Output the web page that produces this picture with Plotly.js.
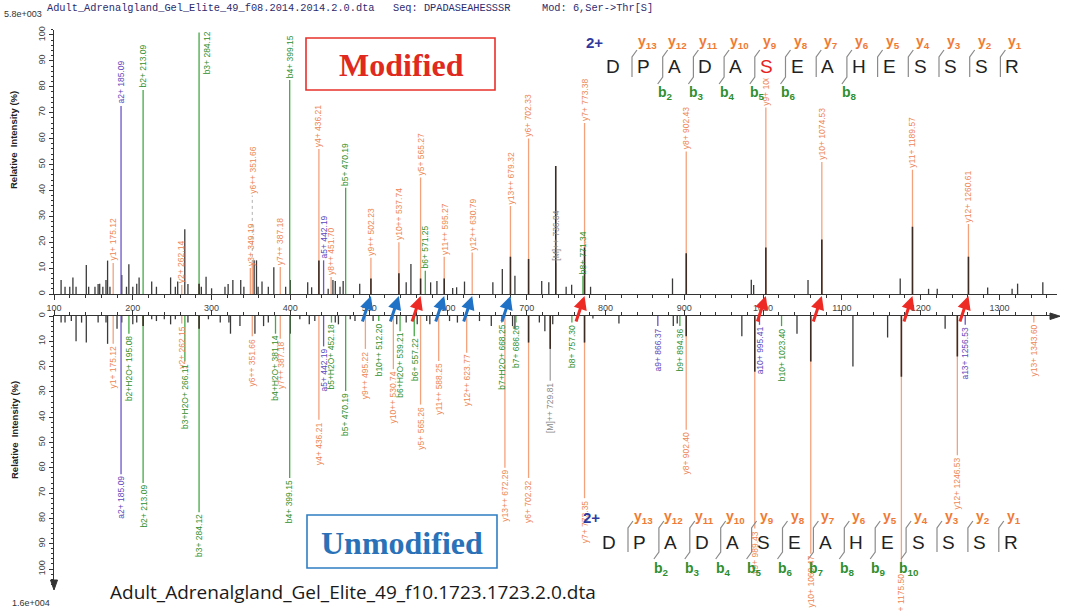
<!DOCTYPE html>
<html>
<head>
<meta charset="utf-8">
<script src="https://cdn.plot.ly/plotly-3.0.1.min.js"></script>
<style>
  html, body { margin: 0; padding: 0; background: #ffffff; }
  #chart { width: 1065px; height: 611px; }
</style>
</head>
<body>
<div id="chart"></div>
<script>
// ---------- Upper panel: modified peptide (Ser->Thr at position 6) ----------
// unassigned peaks (m/z, relative intensity %)
const topPeakMz = [109,114,120,124,128,141,144,152,156,158,162,166,168,171,186,192,195,200,205,208,224,230,248,254,257,266,270,287,293,300,317,321,327,337,341,354,357,359,364,372,379,394,400,422,427,448,454,457,463,467,488,547,553,578,586,606,611,621,657,669,685,719,728,750,757,781,885,985,988,1057,1174,1210,1221,1285,1316,1323,1355];
const topPeakInt = [5.4,2.8,2.8,6.4,2.8,11.2,2.8,2.8,3.9,4,2.8,5.4,12.9,2.8,7.3,2.8,11.5,2.8,4,6.4,4.8,2.8,6.4,2.8,4.8,25,3.9,2.8,6.7,2.2,2.8,3.9,5.4,5.4,2.8,13,13,2.8,4.8,2.8,10.3,2.8,5.4,4.5,2.6,2,5.4,5,2.8,5,4,4.5,11.6,4.5,5,2.3,2.6,4.8,4.5,9.7,7,5,4.5,2.8,3.6,2.8,6,5.5,3.5,5.4,6,2,2,2.5,2,4,4.5];
// assigned fragment ions
const topIonMz = [175.12,185.09,213.09,262.14,284.12,349.19,351.66,387.18,399.15,436.21,442.19,451.70,470.19,502.23,537.74,565.27,571.25,595.27,630.79,679.32,702.33,736.84,771.34,773.38,902.43,1003.47,1074.53,1189.57,1260.61];
const topIonName = ['y1+','a2+','b2+','y2+','b3+','y3+','y6++','y7++','b4+','y4+','a5+','y8++','b5+','y9++','y10++','y5+','b6+','y11++','y12++','y13++','y6+','[M]++','b8+','y7+','y8+','y9+','y10+','y11+','y12+'];
const topIonHeight = [12,72.6,78.8,3.5,101,10,12,10.4,82.6,56,13,6.6,41,14,20,45,9,14.4,16,34,60,12,7,66,55,72,51,48,27];
const topIonLabelAt = [null,null,null,null,null,null,38,null,null,null,null,null,null,null,null,null,null,null,null,null,null,null,null,null,null,null,null,null,null];
const topIonPeak = [0,0,0,0,4,0,0,0,0,12.9,0,0,0,6,8,6,0,6,0,14.4,13.5,49.4,0,18,15.7,18,21,26,14.4];

// ---------- Lower panel: unmodified peptide ----------
const botPeakMz = [109,114,122,128,135,141,156,166,168,180,186,200,205,224,230,240,248,254,270,296,311,322,324,336,355,366,372,400,412,424,431,457,461,476,482,505,535,547,561,573,577,602,612,640,655,682,685,716,723,733,784,817,886,891,973,1043,1114,1158,1231];
const botPeakInt = [2.6,2.6,2,10,2.6,10.5,2.6,2.6,11,5,2.6,3.3,2.6,1.3,2,1.3,3.3,1.3,2.6,1.3,2.6,2.6,7,4,7,4,2.6,7,1.3,3.3,2,2.6,3.3,1.3,2,2,3.3,2.6,3.3,2,3.3,2,2.6,2,4,4,5,2.6,6,3.3,1,3,4,3,8,7,20,8.5,5];
const botIonMz = [175.12,185.09,195.08,213.09,262.15,266.11,284.12,351.66,381.14,387.18,399.15,436.21,442.19,452.18,470.19,495.22,512.20,530.74,539.21,557.22,565.26,588.25,623.77,668.25,672.29,686.26,702.32,729.81,757.30,773.35,866.37,894.36,902.40,989.43,995.41,1023.40,1060.47,1175.50,1246.53,1256.53,1343.60];
const botIonName = ['y1+','a2+','b2+H2O+','b2+','y2+','b3+H2O+','b3+','y6++','b4+H2O+','y7++','b4+','y4+','a5+','b5+H2O+','b5+','y9++','b10++','y10++','b6+H2O+','b6+','y5+','y11++','y12++','b7+H2O+','y13++','b7+','y6+','[M]++','b8+','y7+','a9+','b9+','y8+','y9+','a10+','b10+','y10+','y11+','y12+','a13+','y13+'];
const botIonHeight = [11,62.5,7,66,3,18,77.6,8,7,9,64,41,12,2.6,29.6,13,2,21,6,8,35,17.8,14.5,2.6,60,2.6,64,25.6,2.6,72,4,4,45,84,3.5,4,94,101,55,3.5,2.6];
const botIonPeak = [0,0,0,4,0,0,5,0,0,0,0,0,0,0,0,0,0,0,0,0,0,0,0,0,0,0,10.5,13,0,10.5,0,0,8,22,0,0,18,24,16,0,0];

// diagnostic ions marked on the m/z axis
const blueArrowMz = [502.23, 537.74, 595.27, 630.79, 679.32];
const redArrowMz = [565.27, 773.38, 1003.47, 1074.53, 1189.57, 1260.61];

// peptide sequence and fragment ladders
const seqLetters = ['D','P','A','D','A','S','E','A','H','E','S','S','S','R'];
const yIonNums = [13,12,11,10,9,8,7,6,5,4,3,2,1];
const topBIons = [2,3,4,5,6,8];
const botBIons = [2,3,4,5,6,7,8,9,10];
const modSite = 6;

// ---------- geometry helpers ----------
const W = 1065, H = 611, ML = 54, MR = 8;
const px = p => (p - ML) / (W - ML - MR);
const py = p => 1 - p / H;

const FONT = 'Liberation Sans, Arial, sans-serif';
const ionStyle = {
  y: { line: '#F4A27C', text: '#EE8655' },
  b: { line: '#45A845', text: '#2F8F2F' },
  a: { line: '#6B55C8', text: '#5E48BC' },
  M: { line: '#A3A3A3', text: '#8A8A8A' }
};
const ionType = n => (n[0] === 'y' || n[0] === 'b' || n[0] === 'a') ? n[0] : 'M';

const traces = [];
const annotations = [];
const shapes = [];

// free text placed in page pixels
function note(xp, yp, text, font, opts) {
  annotations.push(Object.assign({
    xref: 'paper', yref: 'paper', x: px(xp), y: py(yp), text: text, showarrow: false,
    xanchor: 'center', yanchor: 'middle', font: font
  }, opts || {}));
}

function segs(xs, hs) {
  const x = [], y = [];
  xs.forEach((m, i) => { if (hs[i] > 0) { x.push(m, m, null); y.push(0, hs[i], null); } });
  return { x, y };
}

function addSpectrum(peakMz, peakInt, ionMz, ionName, ionHeight, ionLabelAt, ionPeak, xa, ya, up) {
  // unassigned peaks
  let s = segs(peakMz, peakInt);
  traces.push({ type: 'scatter', mode: 'lines', x: s.x, y: s.y, xaxis: xa, yaxis: ya,
    line: { color: '#3a3a3a', width: 1.3 }, hoverinfo: 'skip', showlegend: false });
  // assigned ions, one trace per ion series
  ['y', 'b', 'a', 'M'].forEach(t => {
    const xs = [], hs = [];
    ionMz.forEach((m, i) => { if (ionType(ionName[i]) === t) { xs.push(m); hs.push(ionHeight[i]); } });
    const g = segs(xs, hs);
    traces.push({ type: 'scatter', mode: 'lines', x: g.x, y: g.y, xaxis: xa, yaxis: ya,
      line: { color: ionStyle[t].line, width: 1.3 }, hoverinfo: 'skip', showlegend: false });
  });
  // dotted leaders for labels lifted above their peak
  const dx = [], dy = [];
  ionMz.forEach((m, i) => {
    const la = ionLabelAt ? ionLabelAt[i] : null;
    if (la !== null && la !== undefined && la > ionHeight[i]) { dx.push(m, m, null); dy.push(ionHeight[i], la, null); }
  });
  if (dx.length) traces.push({ type: 'scatter', mode: 'lines', x: dx, y: dy, xaxis: xa, yaxis: ya,
    line: { color: '#b0b0b0', width: 1, dash: 'dot' }, hoverinfo: 'skip', showlegend: false });
  // measured intensity of the assigned peaks
  s = segs(ionMz, ionPeak);
  traces.push({ type: 'scatter', mode: 'lines', x: s.x, y: s.y, xaxis: xa, yaxis: ya,
    line: { color: '#3b2b22', width: 1.6 }, hoverinfo: 'skip', showlegend: false });
  // ion labels
  ionMz.forEach((m, i) => {
    const t = ionType(ionName[i]);
    const la = (ionLabelAt && ionLabelAt[i] !== null && ionLabelAt[i] !== undefined) ? ionLabelAt[i] : ionHeight[i];
    const a = {
      x: m, y: la, xref: xa, yref: ya, text: ionName[i] + ' ' + m.toFixed(2),
      textangle: -90, showarrow: false, xanchor: 'center',
      yanchor: up ? 'bottom' : 'top', borderpad: 1,
      font: { family: FONT, size: 8.5, color: ionStyle[t].text }
    };
    if (up && la > 95) { a.yanchor = 'top'; a.y = 102; a.xanchor = 'left'; a.xshift = 1; }
    annotations.push(a);
  });
}

addSpectrum(topPeakMz, topPeakInt, topIonMz, topIonName, topIonHeight, topIonLabelAt, topIonPeak, 'x', 'y', true);
addSpectrum(botPeakMz, botPeakInt, botIonMz, botIonName, botIonHeight, null, botIonPeak, 'x2', 'y2', false);

// arrows pointing at diagnostic fragments
function addArrows(list, color) {
  list.forEach(m => annotations.push({
    x: m, xref: 'x', y: py(296), yref: 'paper', ax: -9, ay: 27, text: '',
    showarrow: true, arrowhead: 2, arrowsize: 0.9, arrowwidth: 3, arrowcolor: color
  }));
}
addArrows(blueArrowMz, '#1F72C6');
addArrows(redArrowMz, '#EE2A24');

// sequence ladder with fragment brackets
function drawSequence(c) {
  seqLetters.forEach((L, i) => {
    note(c.letterX0 + i * c.step, c.letterY, L,
      { family: FONT, size: 19, color: (c.modified && i + 1 === modSite) ? '#E8221C' : '#222222' },
      c.modified ? { bgcolor: '#ffffff' } : {});
  });
  for (let j = 0; j < seqLetters.length - 1; j++) {
    const bx = c.bracketX0 + j * c.step;
    const hasB = c.bIons.indexOf(j + 1) >= 0;
    let path = `M ${px(bx + 5)},${py(c.br0 - 7)} L ${px(bx)},${py(c.br0)} L ${px(bx)},${py(c.br1)}`;
    if (hasB) path += ` L ${px(bx - 5)},${py(c.br1 + 7)}`;
    shapes.push({ type: 'path', xref: 'paper', yref: 'paper', path: path,
      line: { color: '#8a8a8a', width: 1.2 } });
    note(bx + 15, c.yLabelY, '<b>y<sub>' + yIonNums[j] + '</sub></b>', { family: FONT, size: 14, color: '#F07A35' });
    if (hasB) note(bx + 3, c.bLabelY, '<b>b<sub>' + (j + 1) + '</sub></b>', { family: FONT, size: 14, color: '#2F8F2F' });
  }
  note(c.chargeX, c.chargeY, '<b>2+</b>', { family: FONT, size: 15, color: '#2F3A9E' });
}
drawSequence({ letterX0: 613, step: 30.7, letterY: 67, yLabelY: 42, bLabelY: 93, bracketX0: 632,
  br0: 57, br1: 77, chargeX: 594, chargeY: 42, bIons: topBIons, modified: true });
drawSequence({ letterX0: 609, step: 30.9, letterY: 542, yLabelY: 517, bLabelY: 569, bracketX0: 628,
  br0: 528, br1: 552, chargeX: 591, chargeY: 517, bIons: botBIons, modified: false });

// panel boxes
shapes.push({ type: 'rect', xref: 'paper', yref: 'paper', x0: px(306), x1: px(495), y0: py(90), y1: py(38),
  line: { color: '#E8302A', width: 1.6 }, fillcolor: 'rgba(0,0,0,0)' });
shapes.push({ type: 'rect', xref: 'paper', yref: 'paper', x0: px(307), x1: px(497), y0: py(568), y1: py(515),
  line: { color: '#2F7DC4', width: 1.6 }, fillcolor: 'rgba(0,0,0,0)' });
note(401, 65, '<b>Modified</b>', { family: 'Liberation Serif, Times New Roman, serif', size: 32, color: '#E02A20' });
note(402, 543, '<b>Unmodified</b>', { family: 'Liberation Serif, Times New Roman, serif', size: 32, color: '#2A72B8' });

// axis end arrows
shapes.push({ type: 'path', xref: 'paper', yref: 'paper',
  path: `M ${px(50.5)},${py(580)} L ${px(57.5)},${py(580)} L ${px(54)},${py(590)} Z`,
  fillcolor: '#333333', line: { color: '#333333', width: 1 } });
shapes.push({ type: 'path', xref: 'paper', yref: 'paper',
  path: `M ${px(1050)},${py(313)} L ${px(1050)},${py(319.5)} L ${px(1060)},${py(316.2)} Z`,
  fillcolor: '#333333', line: { color: '#333333', width: 1 } });

// axis titles, scale factors and file headers
const axTitleFont = { family: FONT, size: 9.5, color: '#222222' };
note(13, 140, '<b>Relative\u00a0 Intensity (%)</b>', axTitleFont, { textangle: -90 });
note(14, 430, '<b>Relative\u00a0 Intensity (%)</b>', axTitleFont, { textangle: -90 });
note(2, 14, '5.8e+003', { family: FONT, size: 9, color: '#333333' }, { xanchor: 'left' });
note(10, 603, '1.6e+004', { family: FONT, size: 9, color: '#333333' }, { xanchor: 'left' });
const monoFont = { family: 'Liberation Mono, Courier New, monospace', size: 10.3, color: '#2B2B6E' };
note(45, 8, 'Adult_Adrenalgland_Gel_Elite_49_f08.2014.2014.2.0.dta', monoFont, { xanchor: 'left' });
note(391, 8, 'Seq: DPADASEAHESSSR', monoFont, { xanchor: 'left' });
note(540, 8, 'Mod: 6,Ser-&gt;Thr[S]', monoFont, { xanchor: 'left' });
note(108, 592, 'Adult_Adrenalgland_Gel_Elite_49_f10.1723.1723.2.0.dta',
  { family: 'Open Sans, Noto Sans, sans-serif', size: 19, color: '#1a1a1a' }, { xanchor: 'left' });

const tickFont = { family: FONT, size: 9, color: '#444444' };
const baseX = {
  range: [100, 1373], showline: true, linecolor: '#333333', linewidth: 1, ticks: 'outside', ticklen: 5,
  tickcolor: '#333333', tick0: 0, dtick: 100, tickfont: tickFont, showgrid: false, zeroline: false,
  minor: { dtick: 20, ticks: 'outside', ticklen: 3, tickcolor: '#333333', showgrid: false }
};
const baseY = {
  showline: true, linecolor: '#333333', linewidth: 1, ticks: 'outside', ticklen: 4, tickcolor: '#333333',
  tick0: 0, dtick: 10, tickangle: -90, tickfont: tickFont, showgrid: false, zeroline: false,
  minor: { dtick: 2, ticks: 'outside', ticklen: 2, tickcolor: '#333333', showgrid: false }
};

const layout = {
  width: W, height: H,
  margin: { l: ML, r: MR, t: 0, b: 0 },
  paper_bgcolor: '#ffffff', plot_bgcolor: '#ffffff',
  showlegend: false,
  xaxis: Object.assign({}, baseX, { domain: [0, 1], anchor: 'y' }),
  xaxis2: Object.assign({}, baseX, { domain: [0, 1], anchor: 'y2', side: 'top', showticklabels: false }),
  yaxis: Object.assign({}, baseY, { domain: [py(294), py(29.8)], range: [0, 102], anchor: 'x' }),
  yaxis2: Object.assign({}, baseY, { domain: [py(586), py(316)], range: [106.7, 0], anchor: 'x2' }),
  annotations: annotations,
  shapes: shapes
};

Plotly.newPlot('chart', traces, layout, { displayModeBar: false, staticPlot: true });
</script>
</body>
</html>
